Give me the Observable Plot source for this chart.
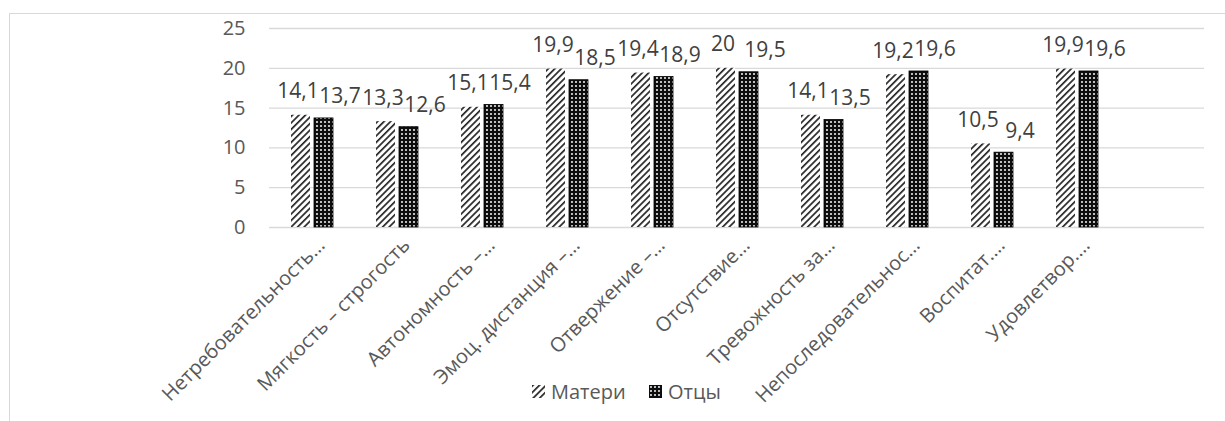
<!DOCTYPE html>
<html>
<head>
<meta charset="utf-8">
<script src="https://cdn.jsdelivr.net/npm/d3@7"></script>
<script src="https://cdn.jsdelivr.net/npm/@observablehq/plot@0.6"></script>
<style>
  body { margin: 0; background: #fff; font-family: "Open Sans", sans-serif; }
  #wrap { position: relative; width: 1225px; height: 421px; overflow: hidden; }
  #frame { position: absolute; left: 9px; top: 13px; width: 1300px; height: 520px;
           border: 1.5px solid #d9d9d9; box-sizing: border-box; }
  #chart { position: absolute; left: 0; top: 0; }
  .lg-item { position: absolute; top: 378px; display: flex; align-items: center;
             font-size: 20px; color: #595959; font-family: "Open Sans", sans-serif; }
  .lg-item svg { margin-right: 6px; }
</style>
</head>
<body>
<svg width="0" height="0" style="position:absolute">
  <defs>
    <pattern id="hatch" patternUnits="userSpaceOnUse" width="4.6" height="4.6" patternTransform="rotate(45)">
      <rect width="4.6" height="4.6" fill="#ffffff"></rect>
      <rect width="1.7" height="4.6" fill="#262626"></rect>
    </pattern>
    <pattern id="dots" patternUnits="userSpaceOnUse" width="4" height="4">
      <rect width="4" height="4" fill="#0d0d0d"></rect>
      <circle cx="2" cy="2" r="1.05" fill="#ececec"></circle>
    </pattern>
  </defs>
</svg>
<div id="wrap">
  <div id="frame"></div>
  <div id="chart"></div>
  <div id="legend"></div>
</div>
<script>
const categories = [
  "Нетребовательность…",
  "Мягкость – строгость",
  "Автономность –…",
  "Эмоц. дистанция –…",
  "Отвержение –…",
  "Отсутствие…",
  "Тревожность за…",
  "Непоследовательнос…",
  "Воспитат.…",
  "Удовлетвор.…"
];
const seriesNames = ["Матери", "Отцы"];
const mothers = [14.1, 13.3, 15.1, 19.9, 19.4, 20, 14.1, 19.2, 10.5, 19.9];
const fathers = [13.7, 12.6, 15.4, 18.5, 18.9, 19.5, 13.5, 19.6, 9.4, 19.6];
const yTicks = [0, 5, 10, 15, 20, 25];
const seriesFills = ["url(#hatch)", "url(#dots)"];

const data = categories.flatMap((c, i) => [
  {category: c, series: seriesNames[0], value: mothers[i]},
  {category: c, series: seriesNames[1], value: fathers[i]}
]);
// the original category axis has one trailing empty slot
const fxDomain = [...categories, " "];
const gridData = fxDomain.flatMap(f => yTicks.map(y => ({f, y})));
const fmt = v => String(v).replace(".", ",");

const chart = Plot.plot({
  width: 1225,
  height: 421,
  marginLeft: 266,
  marginRight: 19,
  marginTop: 28,
  marginBottom: 194,
  style: {fontFamily: "Open Sans, sans-serif", fontSize: "20px", color: "#595959", background: "transparent", overflow: "visible"},
  fx: {domain: fxDomain, padding: 0, axis: null},
  x: {domain: seriesNames, paddingInner: 0.19, paddingOuter: 0.87, axis: null},
  y: {domain: [0, 25], axis: null},
  color: {domain: seriesNames, range: seriesFills},
  marks: [
    Plot.ruleY(gridData, {fx: "f", y: "y", stroke: "#d9d9d9", strokeWidth: 1.3}),
    Plot.axisY(yTicks, {tickSize: 0, tickPadding: 24, fontSize: 20, fill: "#595959", tickFormat: d => d, label: null}),
    Plot.barY(data, {fx: "category", x: "series", y: "value", fill: "series",
      stroke: d => d.series === seriesNames[1] ? "#000" : "none", strokeWidth: 0.8}),
    Plot.text(data.filter(d => d.series === seriesNames[0]), {fx: "category", x: "series", y: "value",
      text: d => fmt(d.value), lineAnchor: "bottom", dy: -17, dx: -3, fontSize: 21, fill: "#404040"}),
    Plot.text(data.filter(d => d.series === seriesNames[1]), {fx: "category", x: "series", y: "value",
      text: d => fmt(d.value), lineAnchor: "bottom", dy: -15, dx: 16, fontSize: 21, fill: "#404040"}),
    Plot.text(categories, {fx: d => d, text: d => d, frameAnchor: "bottom", rotate: -45,
      textAnchor: "end", lineAnchor: "middle", dx: 9.5, dy: 14.5, fontSize: 20, fill: "#595959"})
  ]
});
document.getElementById("chart").appendChild(chart);

// legend
const legend = document.getElementById("legend");
const lgLeft = [532, 649];
seriesNames.forEach((name, i) => {
  const item = document.createElement("div");
  item.className = "lg-item";
  item.style.left = lgLeft[i] + "px";
  item.innerHTML = `<svg width="13" height="13"><rect width="13" height="13" fill="${seriesFills[i]}"></rect></svg><span>${name}</span>`;
  legend.appendChild(item);
});
</script>
</body>
</html>
